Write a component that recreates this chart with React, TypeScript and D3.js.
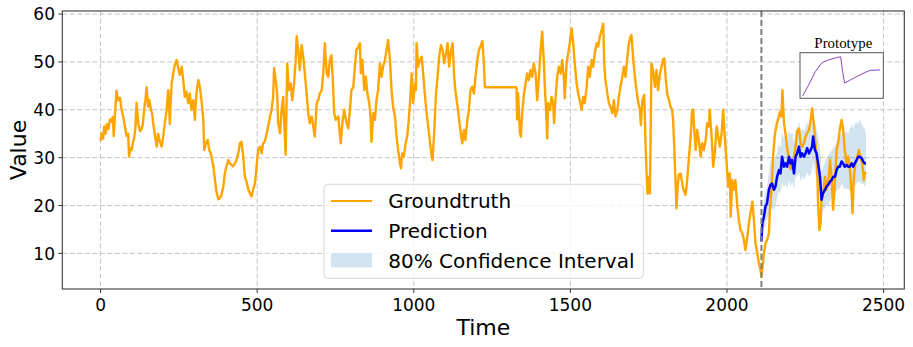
import React, { useEffect } from 'react';
import * as d3 from 'd3';

// groundtruth [time, value]
const groundtruth: [number, number][] = [
  [0, 33.5], [3, 35], [8, 34], [12, 36.5], [16, 35], [20, 37], [25, 36], [30, 38], [35, 37.5], [39, 38.5],
  [42, 34.5], [46, 39], [51, 44], [56, 42], [62, 42.5], [67, 40], [72, 38.6], [78, 36.5], [83, 34.5], [88, 35],
  [91, 30.2], [95, 32], [99, 31.6], [103, 33], [107, 34], [111, 36], [115, 41.5], [120, 37.2], [126, 35.5], [131, 36],
  [135, 37], [139, 40], [143, 42], [147, 44.7], [152, 40.7], [156, 42], [161, 40], [165, 39], [168, 37.2], [173, 35],
  [179, 32.3], [184, 35], [189, 33.4], [195, 32.3], [200, 34.4], [205, 37.2], [211, 40], [216, 44.1], [219, 40.7], [221, 37],
  [224, 42], [227, 45.5], [232, 47.6], [237, 49.4], [243, 50.4], [248, 48.7], [253, 47.3], [259, 49], [264, 46.2], [269, 42.7],
  [274, 43.8], [280, 41.4], [285, 43.4], [290, 40], [296, 42], [301, 37.9], [306, 43.4], [312, 46.2], [317, 44.8], [322, 42],
  [328, 37.9], [331, 31.6], [336, 33], [342, 33.7], [347, 31.6], [352, 30.9], [360, 28.2], [365, 25.4], [370, 22.9], [376, 21.3],
  [381, 21.5], [386, 22.2], [392, 24], [397, 26.8], [402, 28.2], [408, 29.5], [413, 28.8], [418, 28.5], [423, 28.2], [429, 28.8],
  [434, 29.5], [440, 31], [445, 33], [450, 33.3], [455, 30.6], [461, 26], [466, 25], [471, 23.5], [477, 22.5], [482, 21.9],
  [487, 23.3], [493, 24.6], [498, 28.1], [503, 31.6], [509, 32.3], [514, 30.9], [519, 33], [525, 33.5], [530, 35], [535, 36.5],
  [541, 38.6], [546, 40], [551, 42.7], [554, 48.7], [559, 46.2], [564, 43.4], [567, 37.2], [573, 35.1], [578, 40], [583, 42.7],
  [586, 37.9], [591, 30.6], [596, 49.7], [601, 44.1], [607, 45.5], [612, 42], [617, 44.8], [623, 50.4], [626, 55.4], [631, 52.5],
  [636, 48.3], [642, 53.5], [647, 51.1], [652, 47.6], [658, 43.4], [663, 39.3], [668, 37.2], [674, 38.6], [679, 36.5], [684, 34.4],
  [690, 41.4], [695, 42], [700, 43.4], [706, 44.1], [711, 47.6], [716, 53.9], [722, 47.6], [727, 46.9], [732, 50.4], [737, 51.4],
  [741, 46.9], [746, 39.3], [751, 37.9], [759, 38.6], [767, 33], [773, 37.9], [778, 40], [783, 37.9], [791, 36.1], [796, 40],
  [801, 44.1], [807, 44.8], [812, 49], [817, 52.5], [823, 53.2], [828, 53.9], [831, 47.6], [836, 50.4], [842, 44.1], [847, 46.9],
  [852, 43.4], [858, 41.4], [862, 38.6], [865, 33.3], [871, 39.3], [876, 37.9], [881, 42], [886, 44.1], [892, 49.7], [897, 46.9],
  [902, 49], [908, 50.4], [913, 52.5], [918, 54.6], [924, 50.4], [929, 44.1], [934, 40.6], [940, 38.6], [945, 34.4], [950, 31.6],
  [956, 28.8], [959, 27.8], [963, 30.9], [968, 30.2], [974, 33], [979, 34.4], [984, 37.9], [990, 43.4], [993, 47.6], [998, 41.4],
  [1004, 45.5], [1007, 44.1], [1009, 53.9], [1014, 49], [1020, 50.4], [1025, 51.1], [1030, 47.6], [1035, 43.4], [1041, 39.3], [1046, 36.5],
  [1051, 33.7], [1057, 30.2], [1060, 29.5], [1065, 35.1], [1071, 43.4], [1076, 46.9], [1081, 51.1], [1087, 53.5], [1092, 52.5], [1097, 49.7],
  [1103, 51.8], [1108, 53.9], [1113, 49], [1119, 52.5], [1124, 53.9], [1129, 46.9], [1134, 43.4], [1140, 40.6], [1145, 37.9], [1150, 35.1],
  [1155, 33], [1160, 35.8], [1165, 33.7], [1171, 37.9], [1176, 40], [1181, 44.1], [1187, 44.8], [1192, 43.4], [1197, 46.9], [1203, 50.4],
  [1208, 52.5], [1213, 53.2], [1219, 54.4], [1224, 49.7], [1227, 44.7], [1328, 44.7], [1330, 38], [1333, 43.4], [1339, 35.1], [1342, 34.4],
  [1346, 39.3], [1352, 43.4], [1357, 45.5], [1362, 47.6], [1367, 46.2], [1373, 48.3], [1378, 46.9], [1383, 49.7], [1389, 47.6], [1394, 42],
  [1399, 46.2], [1405, 52.5], [1410, 56.3], [1415, 50.4], [1419, 44.1], [1423, 39.3], [1426, 34], [1429, 41.4], [1435, 40], [1440, 42.7],
  [1445, 41.4], [1448, 37.2], [1453, 42.7], [1458, 46.9], [1463, 49], [1469, 47.6], [1474, 50.4], [1479, 46.9], [1482, 42.4], [1488, 49.7],
  [1493, 51.8], [1498, 53.9], [1504, 57], [1509, 53.9], [1514, 49.7], [1520, 45.5], [1525, 43.4], [1530, 42], [1536, 40], [1541, 42.7],
  [1546, 41.4], [1552, 44.8], [1557, 49], [1562, 46.9], [1568, 50.4], [1573, 49], [1578, 51.8], [1584, 53.9], [1589, 53.2], [1594, 55.3],
  [1600, 56.7], [1605, 58], [1608, 49.7], [1612, 46.2], [1618, 43.4], [1623, 41.4], [1628, 40.6], [1634, 39.3], [1639, 42], [1644, 38.6],
  [1650, 40], [1655, 42.7], [1660, 44.8], [1666, 46.9], [1671, 49], [1676, 46.9], [1681, 50.4], [1687, 53.9], [1692, 55.3], [1695, 55.6],
  [1701, 50.4], [1706, 46.9], [1711, 44.1], [1717, 41.4], [1722, 40], [1725, 36.8], [1730, 42], [1736, 43.1], [1740, 33], [1743, 27.4],
  [1746, 22.5], [1751, 26], [1754, 22.5], [1759, 49.7], [1764, 48.3], [1770, 44.8], [1775, 48.3], [1780, 44.1], [1786, 47.6], [1791, 49],
  [1796, 50.5], [1800, 50.7], [1804, 46.9], [1809, 43.4], [1815, 42], [1820, 40.6], [1825, 40], [1828, 37.9], [1832, 31.6], [1836, 24.6],
  [1839, 19.4], [1842, 23.2], [1846, 26.4], [1852, 26.7], [1857, 24.6], [1862, 23.2], [1868, 22.2], [1873, 25.3], [1878, 29.5], [1884, 34.4],
  [1889, 40], [1892, 40], [1895, 36.5], [1900, 31.6], [1905, 35.8], [1910, 33.7], [1916, 30.2], [1921, 33], [1926, 31.6], [1932, 33.7],
  [1937, 37.2], [1942, 36.5], [1945, 40], [1951, 34.4], [1956, 28.1], [1961, 30.9], [1967, 36.5], [1972, 34.4], [1977, 32.3], [1983, 35.1],
  [1988, 40], [1993, 34.4], [1999, 28.8], [2004, 24], [2009, 26.7], [2012, 17.7], [2017, 25.3], [2022, 23.3], [2027, 25.3], [2033, 19.8],
  [2038, 17], [2043, 14.9], [2049, 14.2], [2054, 12.8], [2059, 10.7], [2065, 13.5], [2070, 16.3], [2075, 18.4], [2081, 20.8], [2086, 17],
  [2091, 12.1], [2097, 10], [2102, 7.9], [2107, 6.6], [2110, 5.2], [2114, 7.3], [2118, 10], [2123, 12.1], [2128, 12.8], [2134, 14.2],
  [2137, 19], [2142, 23], [2148, 31], [2153, 34.8], [2158, 36.8], [2164, 38.2], [2169, 39.6], [2174, 38.6], [2177, 44.1], [2182, 37.2],
  [2187, 35], [2192, 32], [2198, 29.8], [2203, 27.6], [2208, 27.8], [2214, 30.2], [2219, 32.3], [2224, 35.5], [2230, 36.1], [2235, 33],
  [2240, 32.3], [2246, 33], [2251, 34.4], [2256, 35.1], [2262, 35.8], [2267, 37.9], [2272, 40.3], [2277, 37.2], [2283, 33], [2288, 28.1],
  [2291, 20.5], [2295, 14.9], [2299, 16.3], [2302, 21.9], [2307, 22.6], [2313, 26], [2318, 23.3], [2323, 24.6], [2329, 29.5], [2334, 26],
  [2339, 19.1], [2345, 25.3], [2350, 31.6], [2355, 33], [2360, 35.8], [2366, 37.9], [2371, 35.8], [2376, 31.6], [2382, 28.8], [2387, 30.2],
  [2392, 28.1], [2398, 22.6], [2401, 18.4], [2405, 26], [2410, 28.8], [2416, 30.2], [2421, 31.6], [2426, 30.2], [2432, 28.8], [2437, 25.3],
  [2440, 26.7], [2444, 27],
];

// forecast: time, mean, and the 80% interval bounds
const predTime = [
  2110, 2113, 2118, 2123, 2128, 2134, 2139, 2144, 2150, 2155, 2160, 2166, 2171, 2176, 2182, 2187, 2192, 2198, 2203, 2208,
  2214, 2219, 2224, 2230, 2235, 2240, 2246, 2251, 2256, 2262, 2267, 2272, 2275, 2281, 2286, 2291, 2297, 2302, 2307, 2313,
  2318, 2323, 2329, 2334, 2339, 2345, 2350, 2355, 2360, 2366, 2371, 2376, 2382, 2387, 2392, 2398, 2403, 2408, 2414, 2419,
  2424, 2430, 2435, 2440, 2444,
];
const predMean = [
  12.5, 16.3, 17.7, 19.8, 20.5, 23.3, 24.3, 24.6, 23.3, 24, 26, 27.4, 26.7, 30.2, 28.1, 28.8, 28.1, 30.2, 28.8, 29.5,
  26.7, 30.2, 30.9, 32.3, 30.2, 30.9, 30.2, 30.9, 32, 30.9, 31.6, 32.3, 34.4, 31.6, 30.9, 28.8, 26, 21.2, 22.6, 23.3,
  24, 24.3, 25, 25.3, 26, 26, 27.4, 28.1, 28.1, 29.2, 28.8, 28.1, 28.5, 28.1, 28.1, 28.8, 28.1, 28.8, 29.5, 30.2,
  30.2, 29.9, 29.2, 28.8, 28.8,
];
const predLow = [
  11, 14, 15, 16.5, 17, 18.5, 19, 19.5, 19, 20, 21.5, 23, 22.5, 25, 24, 24.5, 23.5, 25.5, 24, 25,
  23.5, 26, 26, 27, 25, 26, 25.5, 26, 27, 26, 26.5, 27.5, 29, 27, 26, 24, 21.5, 17.5, 19, 19.5,
  20, 20, 21, 21.5, 22, 22, 23, 23.5, 23.5, 24.5, 24, 23.5, 23.5, 23.5, 23, 24, 23.5, 24, 24.5, 25,
  25, 24.5, 24.5, 24, 24.5,
];
const predHigh = [
  14, 19, 21, 23, 24, 27, 29, 30, 29, 30, 31, 33, 32, 35, 34, 35, 33.5, 36, 34.5, 35.5,
  33, 35.5, 36, 37.5, 35.5, 36, 35.5, 36.5, 37.5, 36, 37, 37.5, 38.5, 37, 36, 34.5, 32, 27, 28, 29,
  30, 30.5, 31, 31.5, 32, 32.5, 33.5, 34, 34.5, 35, 35.5, 35, 35.5, 35, 36, 37, 36, 37, 37.5, 37,
  38, 37, 36.5, 36, 35,
];
const forecastStart = 2110;

// inset prototype shape
const protoX = [0, 0.077, 0.163, 0.249, 0.335, 0.421, 0.49, 0.515, 0.541, 0.635, 0.764, 0.871, 1];
const protoY = [0, 0.275, 0.61, 0.83, 0.9, 0.95, 0.98, 0.61, 0.32, 0.42, 0.55, 0.64, 0.65];

const xTicks = [0, 500, 1000, 1500, 2000, 2500];
const yTicks = [10, 20, 30, 40, 50, 60];
const legendItems = ['Groundtruth', 'Prediction', '80% Confidence Interval'];

const W = 913;
const H = 347;
const left = 62.3, right = 904.3, top = 11, bottom = 289;
const sans = '"DejaVu Sans", sans-serif';

export default function App() {
  useEffect(() => {
    document.body.style.margin = '0';
  }, []);

  const tExt = d3.extent(groundtruth, d => d[0]) as [number, number];
  const vExt = d3.extent(groundtruth, d => d[1]) as [number, number];
  const tPad = (tExt[1] - tExt[0]) * 0.05;
  const vPad = (vExt[1] - vExt[0]) * 0.05;
  const x = d3.scaleLinear().domain([tExt[0] - tPad, tExt[1] + tPad]).range([left, right]);
  const y = d3.scaleLinear().domain([vExt[0] - vPad, vExt[1] + vPad]).range([bottom, top]);

  const gtLine = d3.line<[number, number]>().x(d => x(d[0])).y(d => y(d[1]));
  const predLine = d3.line<number>().x((_, i) => x(predTime[i])).y(d => y(d));
  const band = d3.area<number>()
    .x((_, i) => x(predTime[i]))
    .y0((_, i) => y(predLow[i]))
    .y1((_, i) => y(predHigh[i]));

  // inset axes
  const ix = d3.scaleLinear().domain([-0.035, 1.04]).range([800, 883.3]);
  const iy = d3.scaleLinear().domain([-0.06, 1.08]).range([98.3, 52.7]);
  const protoLine = d3.line<number>().x((_, i) => ix(protoX[i])).y(d => iy(d));

  const legX = 324, legY = 184.3, legW = 319.3, legH = 94;
  const rowY = [201, 230.7, 260.3];

  return (
    <svg width={W} height={H} style={{ position: 'absolute', left: 0, top: 0, background: '#fff' }}>
      <defs>
        <clipPath id="plot">
          <rect x={left} y={top} width={right - left} height={bottom - top} />
        </clipPath>
      </defs>
      <rect x={0} y={0} width={W} height={H} fill="#fff" />
      {/* grid */}
      <g stroke="#c4c4c4" strokeWidth={1} strokeDasharray="5,2.5">
        {xTicks.map(t => <line key={'gx' + t} x1={x(t)} x2={x(t)} y1={top} y2={bottom} />)}
        {yTicks.map(t => <line key={'gy' + t} x1={left} x2={right} y1={y(t)} y2={y(t)} />)}
      </g>
      <g clipPath="url(#plot)">
        <path d={band(predMean) || ''} fill="#1f77b4" fillOpacity={0.2} />
        <path d={gtLine(groundtruth) || ''} fill="none" stroke="#ffa500" strokeWidth={2.4} strokeLinejoin="round" />
        <path d={predLine(predMean) || ''} fill="none" stroke="#0000ff" strokeWidth={2.5} strokeLinejoin="round" />
        <line x1={x(forecastStart)} x2={x(forecastStart)} y1={top} y2={bottom}
          stroke="#7f7f7f" strokeWidth={2} strokeDasharray="6,3" />
      </g>
      {/* inset */}
      <rect x={800} y={52.7} width={83.3} height={45.6} fill="#fff" stroke="#555" strokeWidth={1} />
      <path d={protoLine(protoY) || ''} fill="none" stroke="#8c45c0" strokeWidth={1} />
      <text x={843.3} y={48.3} textAnchor="middle" fontFamily='"Liberation Serif", "DejaVu Serif", serif' fontSize={14.9}>Prototype</text>
      {/* spines */}
      <rect x={left} y={top} width={right - left} height={bottom - top} fill="none" stroke="#3a3a3a" strokeWidth={1.1} />
      {/* ticks */}
      <g fontFamily={sans} fontSize={17} fill="#000">
        {xTicks.map(t => (
          <g key={'xt' + t}>
            <line x1={x(t)} x2={x(t)} y1={bottom} y2={bottom + 4} stroke="#3a3a3a" strokeWidth={1} />
            <text x={x(t)} y={311} textAnchor="middle">{t}</text>
          </g>
        ))}
        {yTicks.map(t => (
          <g key={'yt' + t}>
            <line x1={left - 4} x2={left} y1={y(t)} y2={y(t)} stroke="#3a3a3a" strokeWidth={1} />
            <text x={55} y={y(t)} dy="0.36em" textAnchor="end">{t}</text>
          </g>
        ))}
      </g>
      <text x={(left + right) / 2} y={335} textAnchor="middle" fontFamily={sans} fontSize={22}>Time</text>
      <text transform={`translate(26,${(top + bottom) / 2}) rotate(-90)`} textAnchor="middle" fontFamily={sans} fontSize={22}>Value</text>
      {/* legend */}
      <rect x={legX} y={legY} width={legW} height={legH} rx={4} fill="#fff" fillOpacity={0.8} stroke="#d6d6d6" strokeWidth={1} />
      <line x1={331} x2={372} y1={rowY[0]} y2={rowY[0]} stroke="#ffa500" strokeWidth={2.2} />
      <line x1={331} x2={372} y1={rowY[1]} y2={rowY[1]} stroke="#0000ff" strokeWidth={2.5} />
      <rect x={331} y={rowY[2] - 7} width={41} height={14} fill="#1f77b4" fillOpacity={0.2} />
      <g fontFamily={sans} fontSize={20} fill="#000">
        {legendItems.map((s, i) => (
          <text key={s} x={388.3} y={rowY[i]} dy="0.36em">{s}</text>
        ))}
      </g>
    </svg>
  );
}
